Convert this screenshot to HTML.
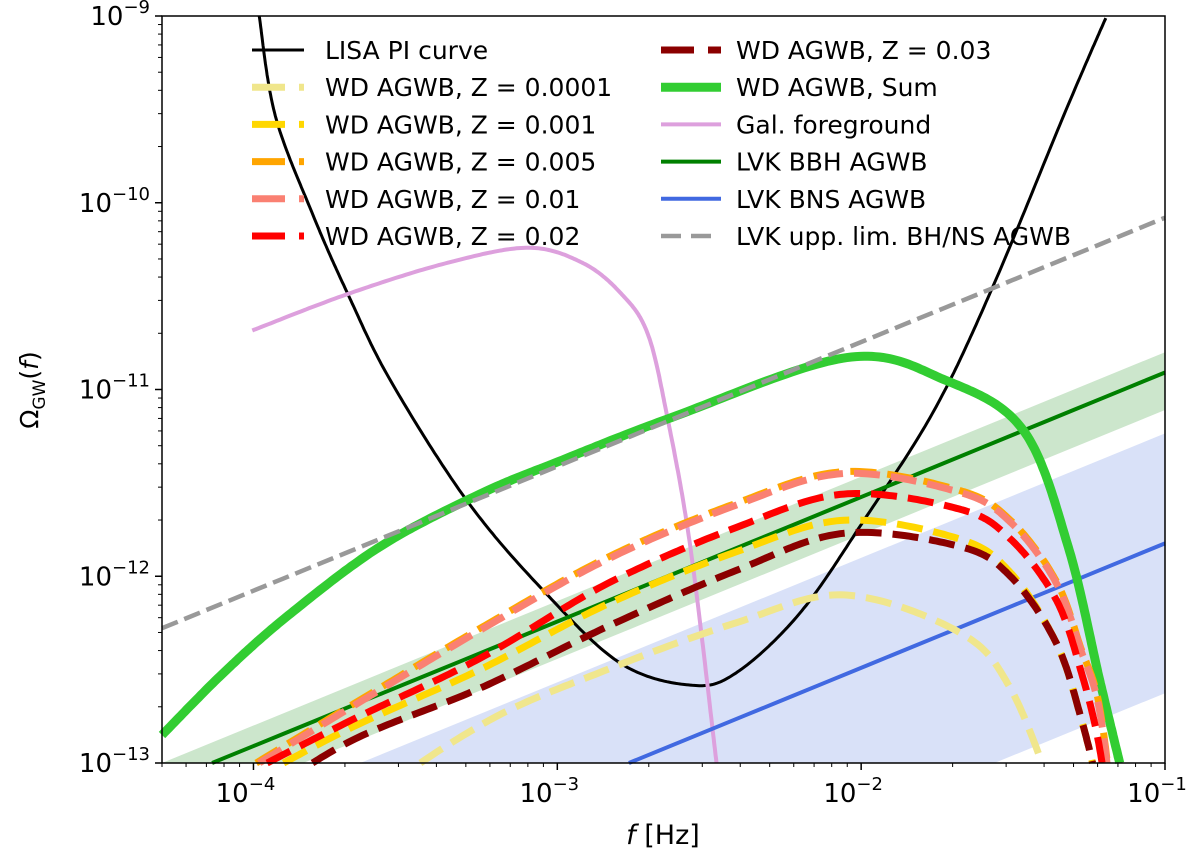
<!DOCTYPE html>
<html><head><meta charset="utf-8"><style>
html,body{margin:0;padding:0;background:#fff;overflow:hidden;width:1200px;height:858px;}
svg{display:block;font-family:"DejaVu Sans","Liberation Sans",sans-serif;}
</style></head><body>
<svg id="chart" width="1200" height="858" viewBox="0 0 1200 858" xmlns="http://www.w3.org/2000/svg">
<g id="bands"></g>
<g id="lines"></g>
<g id="axes"></g>
<g id="legend"></g>
</svg>
<script>
// ---- data (log10 f, log10 Omega) ----
const lisaLogF = [-3.981,-3.928,-3.803,-3.687,-3.549,-3.298,-3.044,-2.793,-2.562,-2.413,-2.202,-1.991,-1.760,-1.568,-1.327,-1.195];
const lisaLogO = [-9.0,-9.535,-10.07,-10.497,-10.952,-11.594,-12.08,-12.465,-12.583,-12.519,-12.198,-11.701,-11.112,-10.455,-9.508,-9.011];
const galLogF = [-4.004,-3.687,-3.360,-3.096,-2.918,-2.793,-2.704,-2.641,-2.562,-2.476];
const galLogO = [-10.684,-10.487,-10.321,-10.241,-10.321,-10.481,-10.695,-11.123,-11.845,-13.0];
const sumLogF = [-4.301,-4.096,-3.885,-3.582,-3.255,-2.987,-2.624,-2.047,-1.720,-1.466,-1.318,-1.215,-1.149];
const sumLogO = [-12.85,-12.513,-12.209,-11.84,-11.56,-11.38,-11.150,-10.829,-10.952,-11.219,-11.845,-12.556,-13.0];
const wdLogF = [-3.991,-3.677,-3.255,-2.836,-2.413,-2.057,-1.677,-1.509,-1.360,-1.278,-1.212,-1.15];
const wdZ0001 = [-14.0,-13.3,-12.80,-12.50,-12.25,-12.10,-12.30,-12.60,-13.2,-13.6,-14.0,-14.5];
const wdZ001  = [-13.08,-12.81,-12.5,-12.15,-11.87,-11.70,-11.80,-11.98,-12.35,-12.75,-13.2,-13.8];
const wdZ005  = [-13.0,-12.69,-12.28,-11.90,-11.61,-11.44,-11.54,-11.70,-12.02,-12.38,-12.73,-13.6];
const wdZ01   = [-13.01,-12.70,-12.29,-11.91,-11.62,-11.45,-11.55,-11.71,-12.03,-12.39,-12.75,-13.6];
const wdZ02   = [-13.03,-12.77,-12.44,-12.04,-11.74,-11.56,-11.64,-11.80,-12.12,-12.5,-12.95,-13.7];
const wdZ03   = [-13.2,-12.88,-12.60,-12.27,-11.97,-11.77,-11.84,-12.0,-12.35,-12.75,-13.2,-13.8];
const bbhLogF = [-4.301,-1.0];
const bbhLogO = [-13.110,-10.909];
const bbhUpper = [-13.000,-10.800];
const bbhLower = [-13.310,-11.110];
const bnsLogF = [-4.301,-1.0];
const bnsLogO = [-14.024,-11.824];
const bnsUpper = [-13.435,-11.235];
const bnsLower = [-14.826,-12.626];
const uplLogF = [-4.301,-1.0];
const uplLogO = [-12.278,-10.080];
const xTickExp = [-4,-3,-2,-1];
const yTickExp = [-13,-12,-11,-10,-9];

// ---- axes ----
const X0=162,X1=1165,Y0=16,Y1=763, LF0=Math.log10(5e-5), LF1=-1, LO0=-13, LO1=-9;
const sx=l=>X0+(l-LF0)/(LF1-LF0)*(X1-X0);
const sy=l=>Y1-(l-LO0)/(LO1-LO0)*(Y1-Y0);
const NS="http://www.w3.org/2000/svg";
function mk(tag,attrs,parent){const e=document.createElementNS(NS,tag);for(const k in attrs)e.setAttribute(k,attrs[k]);parent.appendChild(e);return e;}
// sample a Catmull-Rom spline through the points (pixel space)
function sampleSmooth(xs,ys){
  const p=xs.map((x,i)=>[sx(x),sy(ys[i])]);
  const out=[p[0]];
  for(let i=0;i<p.length-1;i++){
    const a=p[i-1]||p[i],b=p[i],c=p[i+1],e=p[i+2]||c;
    const c1=[b[0]+(c[0]-a[0])/6,b[1]+(c[1]-a[1])/6],c2=[c[0]-(e[0]-b[0])/6,c[1]-(e[1]-b[1])/6];
    for(let k=1;k<=30;k++){const t=k/30,u=1-t;
      out.push([u*u*u*b[0]+3*u*u*t*c1[0]+3*u*t*t*c2[0]+t*t*t*c[0],u*u*u*b[1]+3*u*u*t*c1[1]+3*u*t*t*c2[1]+t*t*t*c[1]]);}
  }
  return out;
}
function clipSeg(p,q){let t0=0,t1=1;const dx=q[0]-p[0],dy=q[1]-p[1];
  const P=[-dx,dx,-dy,dy],Q=[p[0]-X0,X1-p[0],p[1]-Y0,Y1-p[1]];
  for(let i=0;i<4;i++){if(P[i]===0){if(Q[i]<0)return null;}else{const r=Q[i]/P[i];if(P[i]<0){if(r>t1)return null;if(r>t0)t0=r;}else{if(r<t0)return null;if(r<t1)t1=r;}}}
  return [[p[0]+t0*dx,p[1]+t0*dy],[p[0]+t1*dx,p[1]+t1*dy],t1<1];
}
function clippedPath(pts){let d='',open=false;
  for(let i=0;i<pts.length-1;i++){const c=clipSeg(pts[i],pts[i+1]);
    if(!c){open=false;continue;}
    if(!open){d+=`M${c[0][0].toFixed(1)},${c[0][1].toFixed(1)}`;open=true;}
    d+=`L${c[1][0].toFixed(1)},${c[1][1].toFixed(1)}`;
    if(c[2])open=false;}
  return d;}
function clipPoly(poly){
  const edges=[[p=>p[0]>=X0,(a,b)=>{const t=(X0-a[0])/(b[0]-a[0]);return [X0,a[1]+t*(b[1]-a[1])];}],
    [p=>p[0]<=X1,(a,b)=>{const t=(X1-a[0])/(b[0]-a[0]);return [X1,a[1]+t*(b[1]-a[1])];}],
    [p=>p[1]>=Y0,(a,b)=>{const t=(Y0-a[1])/(b[1]-a[1]);return [a[0]+t*(b[0]-a[0]),Y0];}],
    [p=>p[1]<=Y1,(a,b)=>{const t=(Y1-a[1])/(b[1]-a[1]);return [a[0]+t*(b[0]-a[0]),Y1];}]];
  let out=poly;
  for(const [inside,inter] of edges){const inp=out;out=[];
    for(let i=0;i<inp.length;i++){const cur=inp[i],prev=inp[(i+inp.length-1)%inp.length];
      if(inside(cur)){if(!inside(prev))out.push(inter(prev,cur));out.push(cur);}
      else if(inside(prev))out.push(inter(prev,cur));}}
  return out;}
const bands=document.getElementById('bands'),lines=document.getElementById('lines'),axes=document.getElementById('axes'),legend=document.getElementById('legend');
function band(xs,up,lo,fill,name){
  const poly=xs.map((x,i)=>[sx(x),sy(up[i])]).concat(xs.map((x,i)=>[sx(x),sy(lo[i])]).reverse());
  const e=mk('polygon',{points:clipPoly(poly).map(p=>p[0].toFixed(1)+','+p[1].toFixed(1)).join(' '),fill:fill},bands);
  
  
}
band(bbhLogF,bbhUpper,bbhLower,'#cce6cc','bbh-uncertainty-band');
band(bnsLogF,bnsUpper,bnsLower,'#d9e1f8','bns-uncertainty-band');

function line(xs,ys,color,w,dash,name){
  const e=mk('path',{d:clippedPath(sampleSmooth(xs,ys)),fill:'none',stroke:color,'stroke-width':w,'stroke-dasharray':dash||'none'},lines);
  
  
}
line(lisaLogF,lisaLogO,'#000',3,null,'lisa-pi-curve');
line(galLogF,galLogO,'#dda0dd',4,null,'galactic-foreground-line');
line(bbhLogF,bbhLogO,'#008000',4,null,'lvk-bbh-line');
line(bnsLogF,bnsLogO,'#4169e1',4,null,'lvk-bns-line');
line(sumLogF,sumLogO,'#32cd32',9,null,'wd-sum-line');
line(uplLogF,uplLogO,'#999',4.5,'17 7','lvk-upper-limit-line');
const wd=[[wdZ0001,'#f0e68c','wd-z0001-line'],[wdZ001,'#ffd700','wd-z001-line'],[wdZ005,'#ffa500','wd-z005-line'],[wdZ01,'#fa8072','wd-z01-line'],[wdZ02,'#ff0000','wd-z02-line'],[wdZ03,'#8b0000','wd-z03-line']];
wd.forEach(s=>line(wdLogF,s[0],s[1],7,'26 11',s[2]));

// frame and ticks
const fr=mk('rect',{x:X0,y:Y0,width:X1-X0,height:Y1-Y0,fill:'none',stroke:'#000','stroke-width':1.5},axes);


for(let d=-5;d<=-1;d++){for(let m=1;m<10;m++){const l=d+Math.log10(m);if(l<LF0-1e-6||l>LF1+1e-6)continue;const x=sx(l);mk('line',{x1:x,x2:x,y1:Y1,y2:Y1+(m===1?7:4),stroke:'#000','stroke-width':m===1?1.5:1},axes);}}
for(let d=-13;d<=-9;d++){for(let m=1;m<10;m++){const l=d+Math.log10(m);if(l>LO1+1e-6)continue;const y=sy(l);mk('line',{x1:X0,x2:X0-(m===1?7:4),y1:y,y2:y,stroke:'#000','stroke-width':m===1?1.5:1},axes);}}
xTickExp.forEach(e=>{const t=mk('text',{x:sx(e)-8,y:802,'font-size':26,'text-anchor':'middle'},axes);t.innerHTML=`10<tspan dy="-12" font-size="18">−${-e}</tspan>`;

});
yTickExp.forEach(e=>{const t=mk('text',{x:150,y:sy(e)+9,'font-size':26,'text-anchor':'end'},axes);t.innerHTML=`10<tspan dy="-12" font-size="18">−${-e}</tspan>`;

});
const xl=mk('text',{x:663,y:844,'font-size':27,'text-anchor':'middle'},axes);xl.innerHTML='<tspan font-style="italic">f</tspan> [Hz]';


const yl=mk('text',{x:0,y:0,'font-size':25,'text-anchor':'middle',transform:'translate(38,390) rotate(-90)'},axes);yl.innerHTML='Ω<tspan dy="7" font-size="17">GW</tspan><tspan dy="-7">(</tspan><tspan font-style="italic">f</tspan>)';



// legend
const legCol1=[['LISA PI curve','#000',3,null],['WD AGWB, Z = 0.0001','#f0e68c',7,'33 14'],['WD AGWB, Z = 0.001','#ffd700',7,'33 14'],['WD AGWB, Z = 0.005','#ffa500',7,'33 14'],['WD AGWB, Z = 0.01','#fa8072',7,'33 14'],['WD AGWB, Z = 0.02','#ff0000',7,'33 14']];
const legCol2=[['WD AGWB, Z = 0.03','#8b0000',7,'33 14'],['WD AGWB, Sum','#32cd32',9,null],['Gal. foreground','#dda0dd',4,null],['LVK BBH AGWB','#008000',4,null],['LVK BNS AGWB','#4169e1',4,null],['LVK upp. lim. BH/NS AGWB','#999',4.5,'20 10']];
function legCol(items,x0,x1,tx){items.forEach((it,i)=>{const y=50+i*37.2;
  const g=mk('g',{},legend);
  
  
  mk('line',{x1:x0,x2:x1,y1:y,y2:y,stroke:it[1],'stroke-width':it[2],'stroke-dasharray':it[3]||'none'},g);
  const t=mk('text',{x:tx,y:y+9,'font-size':25},g);t.textContent=it[0];});}
legCol(legCol1,252,304,325);
legCol(legCol2,661,721,736);
</script>
</body></html>
